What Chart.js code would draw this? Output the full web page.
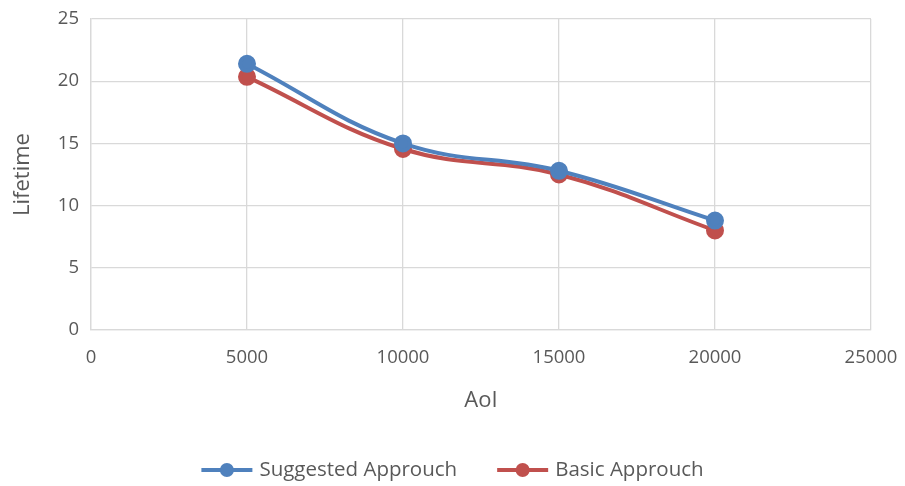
<!DOCTYPE html>
<html>
<head>
<meta charset="utf-8">
<script src="https://cdn.jsdelivr.net/npm/chart.js@4/dist/chart.umd.min.js"></script>
<style>
  html, body { margin: 0; padding: 0; background: #fff; }
  #wrap { width: 905px; height: 486px; }
</style>
</head>
<body>
<div id="wrap"><canvas id="c" width="905" height="486"></canvas></div>
<script>
const aoi = [5000, 10000, 15000, 20000];
const suggested = [21.4, 15.0, 12.8, 8.8];
const basic = [20.35, 14.55, 12.5, 8.0];
const seriesNames = ['Suggested Approuch', 'Basic Approuch'];
const xTicks = [0, 5000, 10000, 15000, 20000, 25000];
const yTicks = [0, 5, 10, 15, 20, 25];

const BLUE = '#4F81BD';
const RED = '#C0504D';
const FONT = "'Open Sans', 'Liberation Sans', sans-serif";
const TEXT = '#595959';
const GRID = '#D9D9D9';

// Legend under the chart: a line with a dot, then the series name
const lineLegend = {
  id: 'lineLegend',
  afterDraw(chart) {
    const ctx = chart.ctx;
    const y = 470;
    const segW = 51, gap = 7, itemGap = 40;
    ctx.save();
    ctx.font = '20.5px ' + FONT;
    const widths = chart.data.datasets.map(ds => segW + gap + ctx.measureText(ds.label).width);
    const total = widths.reduce((a, b) => a + b, 0) + itemGap * (widths.length - 1);
    let x = (chart.width - total) / 2;
    chart.data.datasets.forEach((ds, i) => {
      ctx.strokeStyle = ds.borderColor;
      ctx.lineWidth = 4;
      ctx.lineCap = 'butt';
      ctx.beginPath(); ctx.moveTo(x, y); ctx.lineTo(x + segW, y); ctx.stroke();
      ctx.fillStyle = ds.borderColor;
      ctx.beginPath(); ctx.arc(x + segW / 2, y, 7, 0, Math.PI * 2); ctx.fill();
      ctx.fillStyle = TEXT;
      ctx.textBaseline = 'middle';
      ctx.textAlign = 'left';
      ctx.fillText(ds.label, x + segW + gap, y);
      x += widths[i] + itemGap;
    });
    ctx.restore();
  }
};

const toPoints = (xs, ys) => xs.map((x, i) => ({ x: x, y: ys[i] }));

new Chart(document.getElementById('c'), {
  type: 'line',
  data: {
    datasets: [
      { label: seriesNames[0], data: toPoints(aoi, suggested), borderColor: BLUE, backgroundColor: BLUE,
        borderWidth: 4, pointRadius: 7, pointHoverRadius: 7, tension: 0.4, pointStyle: 'circle' },
      { label: seriesNames[1], data: toPoints(aoi, basic), borderColor: RED, backgroundColor: RED,
        borderWidth: 4, pointRadius: 7, pointHoverRadius: 7, tension: 0.4, pointStyle: 'circle' }
    ]
  },
  plugins: [lineLegend],
  options: {
    responsive: false,
    animation: false,
    layout: { padding: { top: 19, right: 34, left: 0, bottom: 68 } },
    plugins: {
      tooltip: { enabled: false },
      legend: { display: false }
    },
    scales: {
      x: {
        type: 'linear',
        min: 0, max: 25000,
        afterBuildTicks: (s) => { s.ticks = xTicks.map(v => ({ value: v })); },
        ticks: { font: { family: FONT, size: 18.5 }, color: TEXT, padding: 17, maxRotation: 0,
                 callback: (v) => String(v) },
        grid: { color: GRID, lineWidth: 1.3, drawTicks: false },
        border: { color: GRID, width: 1.3 },
        title: { display: true, text: 'AoI', font: { family: FONT, size: 22 }, color: TEXT, padding: { top: 8 } },
        afterFit: (s) => { s.height = 88; s.paddingLeft = 0; s.paddingRight = 0; }
      },
      y: {
        min: 0, max: 25,
        afterBuildTicks: (s) => { s.ticks = yTicks.map(v => ({ value: v })); },
        ticks: { font: { family: FONT, size: 18.5 }, color: TEXT, padding: 12 },
        grid: { color: GRID, lineWidth: 1.3, drawTicks: false },
        border: { color: GRID, width: 1.3 },
        title: { display: true, text: 'Lifetime', font: { family: FONT, size: 22 }, color: TEXT, padding: { top: 10, bottom: 0 } },
        afterFit: (s) => { s.width = 91; s.paddingTop = 0; s.paddingBottom = 0; }
      }
    }
  }
});
</script>
</body>
</html>
